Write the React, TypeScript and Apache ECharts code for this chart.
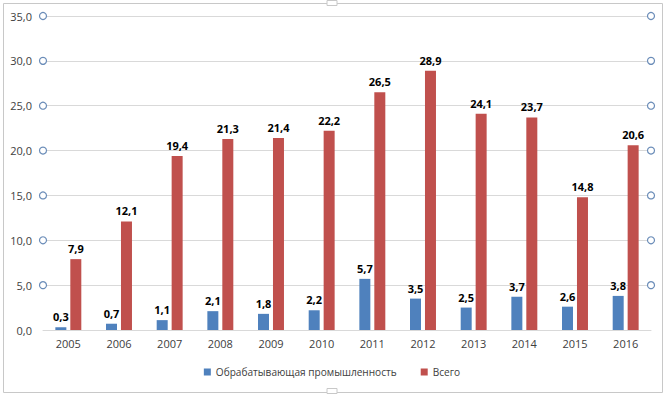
import React, { useEffect, useRef } from "react";
import * as echarts from "echarts";

const years = ["2005", "2006", "2007", "2008", "2009", "2010", "2011", "2012", "2013", "2014", "2015", "2016"];
const manufacturing = [0.3, 0.7, 1.1, 2.1, 1.8, 2.2, 5.7, 3.5, 2.5, 3.7, 2.6, 3.8];
const total = [7.9, 12.1, 19.4, 21.3, 21.4, 22.2, 26.5, 28.9, 24.1, 23.7, 14.8, 20.6];
const seriesNames = ["Обрабатывающая промышленность", "Всего"];
const handleTicks = [5, 10, 15, 20, 25, 30, 35];

const fmt = (v: number) => v.toFixed(1).replace(".", ",");
const FONT = "'Open Sans', 'Noto Sans', sans-serif";

export default function App() {
  const ref = useRef<HTMLDivElement>(null);
  useEffect(() => {
    if (!ref.current) return;
    const chart = echarts.init(ref.current, null, { renderer: "svg" });
    const label = {
      show: true,
      position: "top" as const,
      distance: 5,
      fontSize: 11,
      fontWeight: "bold" as const,
      color: "#000",
      fontFamily: FONT,
      formatter: (p: any) => fmt(p.value),
    };
    const handleData: number[][] = [];
    handleTicks.forEach((t) => {
      handleData.push([0, t]);
      handleData.push([1, t]);
    });
    const w = 664;
    const h = 395;
    chart.setOption({
      animation: false,
      textStyle: { fontFamily: FONT },
      grid: { left: 43, right: 13, top: 16, bottom: 65, containLabel: false },
      legend: {
        bottom: 13,
        left: "center",
        icon: "rect",
        itemWidth: 7,
        itemHeight: 7,
        itemGap: 24,
        itemStyle: { borderWidth: 0 },
        textStyle: { fontSize: 10.1, color: "#404040", fontFamily: FONT },
        data: seriesNames,
      },
      xAxis: [
        {
          type: "category",
          data: years,
          axisLine: { lineStyle: { color: "#d9d9d9" } },
          axisTick: { show: false },
          axisLabel: { fontSize: 11, color: "#404040", margin: 8, fontFamily: FONT },
        },
        {
          type: "value",
          min: 0,
          max: 1,
          show: false,
          splitLine: { show: false },
        },
      ],
      yAxis: {
        type: "value",
        min: 0,
        max: 35,
        interval: 5,
        axisLine: { show: false },
        axisTick: { show: false },
        splitLine: { lineStyle: { color: "#d9d9d9" } },
        axisLabel: { fontSize: 11, color: "#404040", margin: 11, formatter: (v: number) => fmt(v), fontFamily: FONT },
      },
      series: [
        {
          name: seriesNames[0],
          type: "bar",
          data: manufacturing,
          barWidth: 11,
          barGap: "36%",
          itemStyle: { color: "#4f81bd" },
          label,
        },
        {
          name: seriesNames[1],
          type: "bar",
          data: total,
          barWidth: 11,
          itemStyle: { color: "#c0504d" },
          label,
        },
        {
          name: "handles",
          type: "scatter",
          xAxisIndex: 1,
          yAxisIndex: 0,
          data: handleData,
          symbol: "circle",
          symbolSize: 7,
          silent: true,
          clip: false,
          itemStyle: { color: "#ffffff", borderColor: "#6a8cb8", borderWidth: 1.2, opacity: 1 },
          z: 10,
        },
      ],
      graphic: [
        {
          type: "rect",
          shape: { x: 3.5, y: 3.5, width: w - 5, height: h - 6 },
          style: { fill: "none", stroke: "#c8c8c8", lineWidth: 1 },
          silent: true,
        },
        {
          type: "rect",
          shape: { x: w / 2 - 5, y: 0.5, width: 10, height: 5 },
          style: { fill: "#fff", stroke: "#c8c8c8", lineWidth: 1 },
        },
        {
          type: "rect",
          shape: { x: w / 2 - 5, y: h - 6.5, width: 10, height: 5 },
          style: { fill: "#fff", stroke: "#c8c8c8", lineWidth: 1 },
        },
      ],
    });
    return () => chart.dispose();
  }, []);
  return (
    <div
      ref={ref}
      style={{ position: "fixed", left: 0, top: 0, width: 664, height: 395, background: "#fff" }}
    />
  );
}
